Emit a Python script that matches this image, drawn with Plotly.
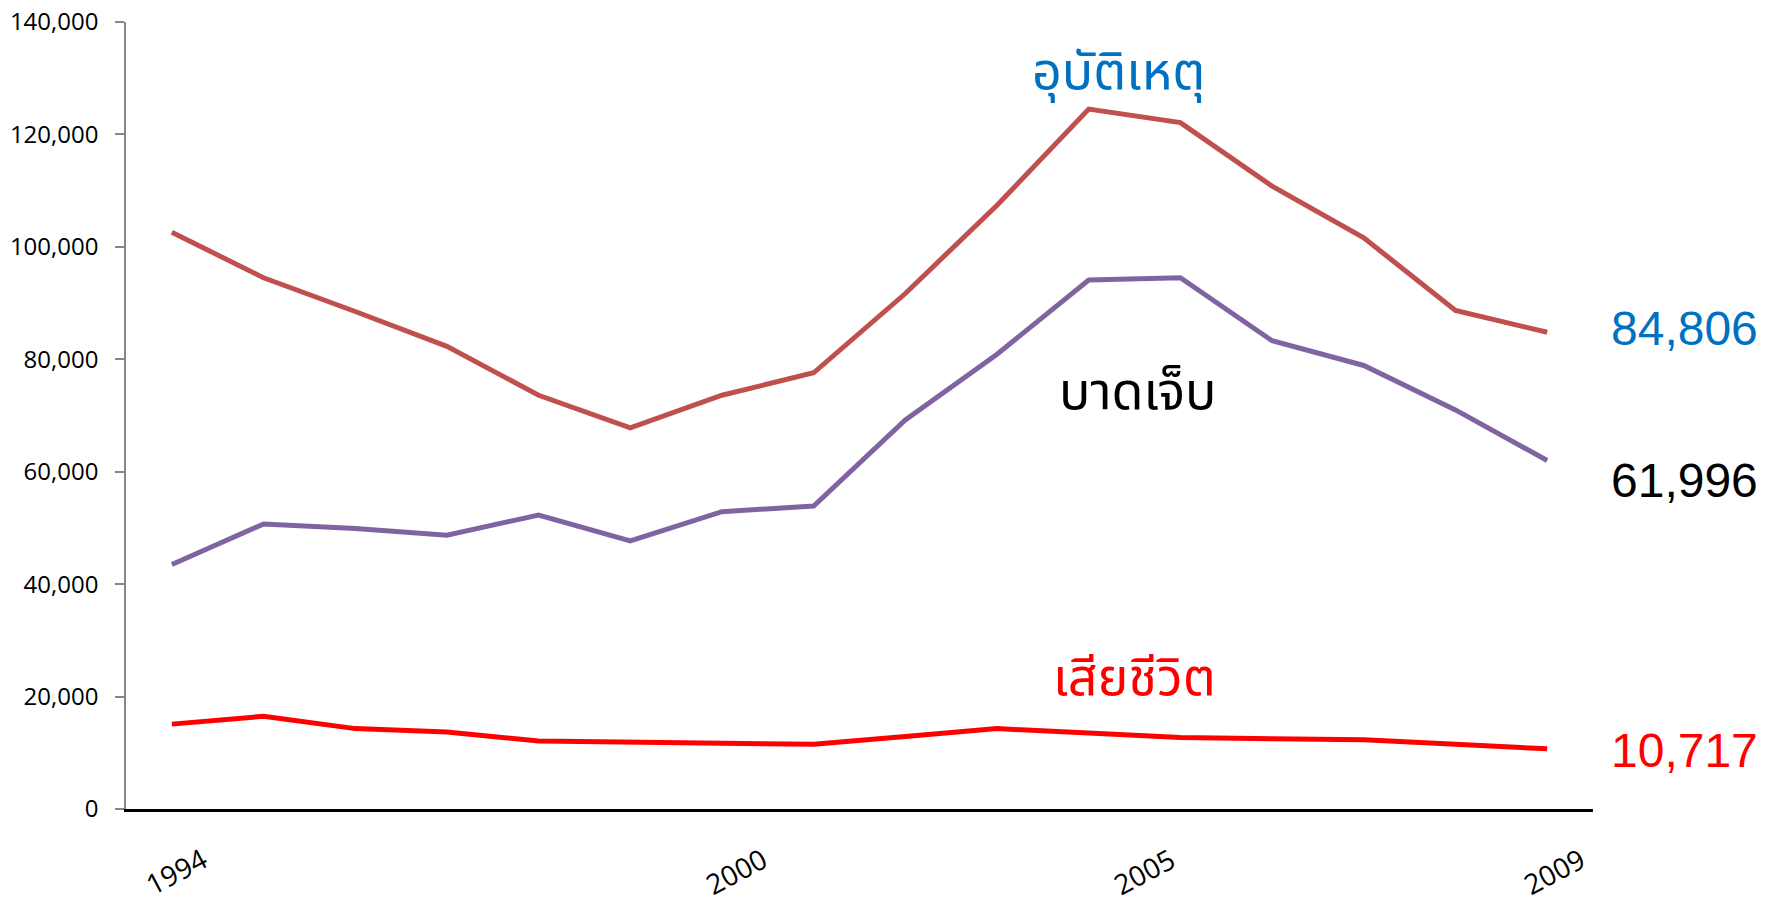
## ----------- imports ----------- ##
import plotly.graph_objects as go


## ----------- data ----------- ##
YEARS = list(range(1994, 2010))

ACCIDENTS = [102600, 94500, 88500, 82300, 73600, 67800, 73600, 77600,
             91700, 107400, 124500, 122100, 110800, 101600, 88700, 84806]
INJURED = [43500, 50700, 49900, 48700, 52300, 47700, 52900, 53900,
           69200, 80900, 94100, 94500, 83300, 78900, 71000, 61996]
DEATHS = [15100, 16500, 14300, 13700, 12100, 11900, 11900, 11500,
          12900, 14300, 13500, 12700, 12500, 12300, 11500, 10717]

NAME_ACCIDENTS = "อุบัติเหตุ"
NAME_INJURED = "บาดเจ็บ"
NAME_DEATHS = "เสียชีวิต"

X_LABELS = [1994, 2000, 2005, 2009]
Y_TICKS = [0, 20000, 40000, 60000, 80000, 100000, 120000, 140000]

## ----------- styles ----------- ##
THAI_FONT = "Noto Sans Thai, Tahoma, Noto Sans, sans-serif"
NUM_FONT = "Liberation Sans, Arial, sans-serif"
AXIS_FONT = "Open Sans, Noto Sans, sans-serif"

COL_ACC = "#C0504D"
COL_INJ = "#8064A2"
COL_DEA = "#FF0000"
COL_BLUE = "#0070C0"

X_LABEL_NUDGE = [4, 14, -36, 7]  ## the year labels sit a little off their points

FIG_W, FIG_H = 1771, 904


def create_chart():
    fig = go.Figure()

    for name, vals, col in [(NAME_ACCIDENTS, ACCIDENTS, COL_ACC),
                            (NAME_INJURED, INJURED, COL_INJ),
                            (NAME_DEATHS, DEATHS, COL_DEA)]:
        fig.add_trace(go.Scatter(
            x=YEARS, y=vals, mode="lines", name=name,
            line=dict(color=col, width=5),
            hovertemplate="%{x}: %{y:,}<extra>" + name + "</extra>",
        ))

    ## series names inside the plot
    fig.add_annotation(x=2004.32, y=131000, text=NAME_ACCIDENTS, showarrow=False,
                       font=dict(family=THAI_FONT, size=52, color=COL_BLUE))
    fig.add_annotation(x=2004.53, y=74000, text=NAME_INJURED, showarrow=False,
                       font=dict(family=THAI_FONT, size=52, color="black"))
    fig.add_annotation(x=2004.5, y=23200, text=NAME_DEATHS, showarrow=False,
                       font=dict(family=THAI_FONT, size=52, color=COL_DEA))

    ## last values on the right
    for vals, col, shift in [(ACCIDENTS, COL_BLUE, 4), (INJURED, "black", -20),
                             (DEATHS, COL_DEA, -2)]:
        fig.add_annotation(x=1.1139, xref="paper", y=vals[-1], yref="y",
                           xanchor="right", yanchor="middle", yshift=shift,
                           text=f"{vals[-1]:,}", showarrow=False,
                           font=dict(family=NUM_FONT, size=48, color=col))

    ## year labels under the axis, slanted
    for yr, nudge in zip(X_LABELS, X_LABEL_NUDGE):
        fig.add_annotation(x=yr, y=0, yref="y", text=str(yr), showarrow=False,
                           textangle=-28, xanchor="center", yanchor="middle",
                           xshift=nudge, yshift=-62,
                           font=dict(family=AXIS_FONT, size=28, color="black"))

    fig.update_layout(
        width=FIG_W, height=FIG_H,
        margin=dict(l=126, r=178, t=22, b=95, autoexpand=False),
        plot_bgcolor="white", paper_bgcolor="white",
        showlegend=False,
        xaxis=dict(
            range=[1993.5, 2009.5], showticklabels=False,
            showline=True, linecolor="black", linewidth=3,
            showgrid=False, zeroline=False, ticks="", automargin=False,
        ),
        yaxis=dict(
            range=[0, 140000], tickvals=Y_TICKS, tickformat=",",
            showline=True, linecolor="#868686", linewidth=1.5,
            showgrid=False, zeroline=False, automargin=False,
            ticks="outside", ticklen=9, tickcolor="#868686", tickwidth=1.5,
            ticklabelstandoff=12, ticklabeloverflow="allow",
            tickfont=dict(family=AXIS_FONT, size=24, color="black"),
        ),
    )

    ## drop the page's default body margin so the figure fills the window
    fig.write_html("out.html", config={"displayModeBar": False},
                   post_script="document.body.style.margin='0';")


if __name__ == "__main__":
    create_chart()
